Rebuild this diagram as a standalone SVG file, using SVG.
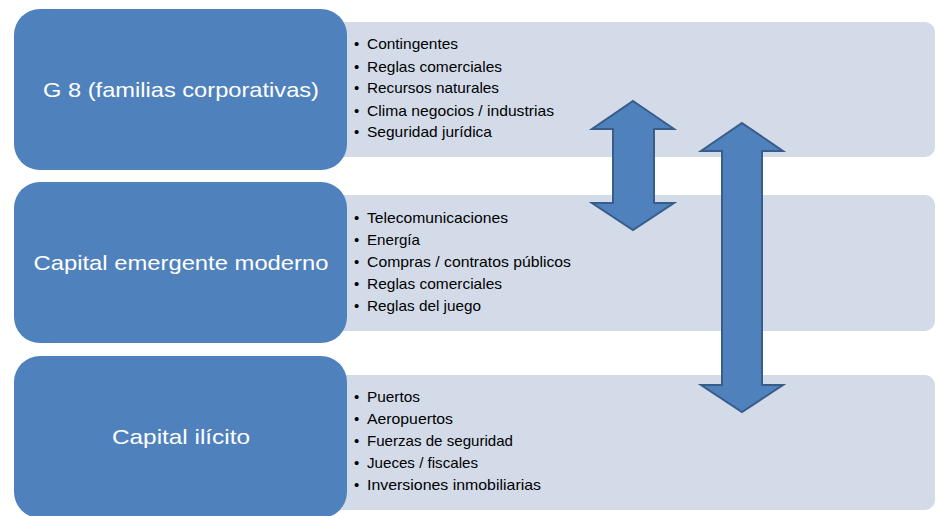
<svg xmlns="http://www.w3.org/2000/svg" width="937" height="516" viewBox="0 0 937 516">
<style>
.panel{fill:#D3DBE9;}
.box{fill:#4F81BD;}
.title{fill:#FFFFFF;font-family:"Liberation Sans",Arial,sans-serif;font-size:21px;text-anchor:middle;}
.item{fill:#000000;font-family:"Liberation Sans",Arial,sans-serif;font-size:15px;}
.arrow{fill:#4F81BD;stroke:#385D8A;stroke-width:2;stroke-linejoin:miter;}
</style>
<rect width="937" height="516" fill="#FFFFFF"/>
<g id="node1">
<rect class="panel" x="320" y="22" width="615" height="135" rx="10"/>
<rect class="box" x="14" y="9" width="333" height="161" rx="26"/>
<text class="title" x="181" y="97" textLength="276" lengthAdjust="spacingAndGlyphs">G 8 (familias corporativas)</text>
<text class="item" x="354" y="49">•</text><text class="item" x="367" y="49" textLength="91" lengthAdjust="spacingAndGlyphs">Contingentes</text>
<text class="item" x="354" y="72">•</text><text class="item" x="367" y="72" textLength="135" lengthAdjust="spacingAndGlyphs">Reglas comerciales</text>
<text class="item" x="354" y="93">•</text><text class="item" x="367" y="93" textLength="132" lengthAdjust="spacingAndGlyphs">Recursos naturales</text>
<text class="item" x="354" y="116">•</text><text class="item" x="367" y="116" textLength="187" lengthAdjust="spacingAndGlyphs">Clima negocios / industrias</text>
<text class="item" x="354" y="137">•</text><text class="item" x="367" y="137" textLength="125" lengthAdjust="spacingAndGlyphs">Seguridad jurídica</text>
</g>
<g id="node2">
<rect class="panel" x="320" y="195" width="615" height="136" rx="10"/>
<rect class="box" x="14" y="182" width="333" height="161" rx="26"/>
<text class="title" x="181" y="270" textLength="295" lengthAdjust="spacingAndGlyphs">Capital emergente moderno</text>
<text class="item" x="354" y="223">•</text><text class="item" x="367" y="223" textLength="141" lengthAdjust="spacingAndGlyphs">Telecomunicaciones</text>
<text class="item" x="354" y="245">•</text><text class="item" x="367" y="245" textLength="53" lengthAdjust="spacingAndGlyphs">Energía</text>
<text class="item" x="354" y="267">•</text><text class="item" x="367" y="267" textLength="204" lengthAdjust="spacingAndGlyphs">Compras / contratos públicos</text>
<text class="item" x="354" y="289">•</text><text class="item" x="367" y="289" textLength="135" lengthAdjust="spacingAndGlyphs">Reglas comerciales</text>
<text class="item" x="354" y="311">•</text><text class="item" x="367" y="311" textLength="114" lengthAdjust="spacingAndGlyphs">Reglas del juego</text>
</g>
<g id="node3">
<rect class="panel" x="320" y="375" width="615" height="135" rx="10"/>
<rect class="box" x="14" y="356" width="333" height="162" rx="26"/>
<text class="title" x="181" y="444" textLength="138" lengthAdjust="spacingAndGlyphs">Capital ilícito</text>
<text class="item" x="354" y="402">•</text><text class="item" x="367" y="402" textLength="53" lengthAdjust="spacingAndGlyphs">Puertos</text>
<text class="item" x="354" y="424">•</text><text class="item" x="367" y="424" textLength="86" lengthAdjust="spacingAndGlyphs">Aeropuertos</text>
<text class="item" x="354" y="446">•</text><text class="item" x="367" y="446" textLength="146" lengthAdjust="spacingAndGlyphs">Fuerzas de seguridad</text>
<text class="item" x="354" y="468">•</text><text class="item" x="367" y="468" textLength="111" lengthAdjust="spacingAndGlyphs">Jueces / fiscales</text>
<text class="item" x="354" y="490">•</text><text class="item" x="367" y="490" textLength="174" lengthAdjust="spacingAndGlyphs">Inversiones inmobiliarias</text>
</g>
<g id="connectors">
<path class="arrow" d="M633,101 L674,129 L654,129 L654,203 L674,203 L633,230 L592,203 L613,203 L613,129 L592,129 Z"/>
<path class="arrow" d="M742,123 L783,151 L762,151 L762,385 L783,385 L742,412 L701,385 L722,385 L722,151 L701,151 Z"/>
</g>
</svg>
